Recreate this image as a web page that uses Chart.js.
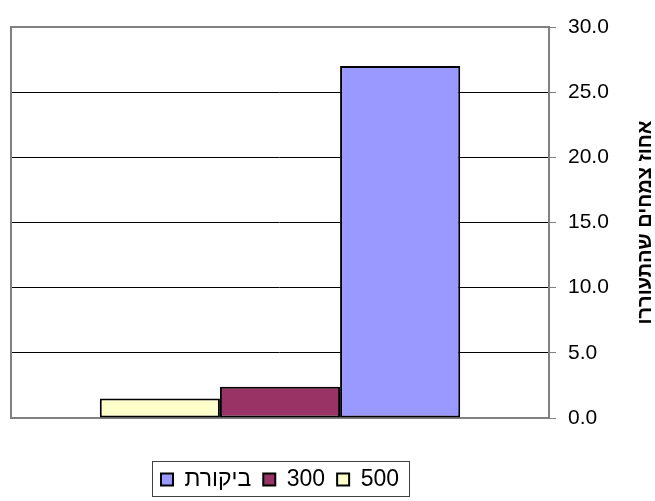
<!DOCTYPE html>
<html>
<head>
<meta charset="utf-8">
<script src="https://cdn.jsdelivr.net/npm/chart.js@4/dist/chart.umd.min.js"></script>
<style>
  html, body { margin: 0; padding: 0; background: #fff; }
  #wrap { width: 655px; height: 501px; }
</style>
</head>
<body>
<div id="wrap"><canvas id="germChart" width="655" height="501"></canvas></div>
<script>
const categories = [''];
const seriesNames = ['500', '300', 'ביקורת'];
const seriesValues = [[1.5], [2.4], [27.0]];
const seriesColors = ['#FFFFCC', '#993366', '#9999FF'];
const yTitle = 'אחוז צמחים שהתעוררו';
const yMin = 0, yMax = 30, yStep = 5;

const fontFamily = "'Liberation Sans', Arial, sans-serif";

const frameBorder = {
  id: 'frameBorder',
  beforeDatasetsDraw(chart) {
    const { ctx, chartArea: a } = chart;
    ctx.save();
    ctx.strokeStyle = '#808080';
    ctx.lineWidth = 2;
    ctx.strokeRect(a.left, a.top, a.right - a.left, a.bottom - a.top);
    ctx.restore();
  }
};

const sideTitle = {
  id: 'sideTitle',
  afterDraw(chart) {
    const { ctx, chartArea: a } = chart;
    ctx.save();
    ctx.translate(645, (a.top + a.bottom) / 2);
    ctx.rotate(-Math.PI / 2);
    ctx.font = 'bold 20px ' + fontFamily;
    ctx.fillStyle = '#000';
    ctx.textAlign = 'center';
    ctx.textBaseline = 'middle';
    ctx.fillText(yTitle, 0, 0);
    ctx.restore();
  }
};

const legendFrame = {
  id: 'legendFrame',
  afterDraw(chart) {
    const boxes = chart.legend && chart.legend.legendHitBoxes;
    if (!boxes || !boxes.length) return;
    const left = Math.min(...boxes.map((b) => b.left)) - 9;
    const right = Math.max(...boxes.map((b) => b.left + b.width)) + 10;
    const top = boxes[0].top - 7;
    const bottom = boxes[0].top + boxes[0].height + 5;
    const { ctx } = chart;
    ctx.save();
    ctx.strokeStyle = '#404040';
    ctx.lineWidth = 1;
    ctx.strokeRect(Math.round(left) + 0.5, Math.round(top) + 0.5, Math.round(right - left), Math.round(bottom - top));
    ctx.restore();
  }
};

const ctx = document.getElementById('germChart').getContext('2d');
new Chart(ctx, {
  type: 'bar',
  data: {
    labels: categories,
    datasets: seriesNames.map((name, i) => ({
      label: name,
      data: seriesValues[i],
      backgroundColor: seriesColors[i],
      borderColor: '#000',
      borderWidth: 2,
      borderSkipped: false,
      categoryPercentage: 0.67,
      barPercentage: 1
    }))
  },
  options: {
    responsive: false,
    animation: false,
    layout: { padding: { left: 11, top: 27, right: 0, bottom: 0 } },
    scales: {
      x: {
        display: true,
        grid: { display: false },
        border: { display: false },
        ticks: { display: false },
        afterFit: (s) => { s.height = 38; }
      },
      y: {
        position: 'right',
        min: yMin,
        max: yMax,
        grid: { color: '#000', lineWidth: 1, tickColor: '#808080', tickLength: 7 },
        border: { display: true, color: '#808080', width: 2 },
        ticks: {
          stepSize: yStep,
          padding: 12,
          color: '#000',
          font: { family: fontFamily, size: 21 },
          callback: (v) => Number(v).toFixed(1)
        },
        afterFit: (s) => { s.width = 106; }
      }
    },
    plugins: {
      legend: {
        position: 'bottom',
        fullSize: false,
        reverse: true,
        labels: {
          color: '#000',
          boxWidth: 12,
          boxHeight: 12,
          padding: 12,
          font: { family: fontFamily, size: 23 }
        }
      },
      tooltip: { enabled: false }
    }
  },
  plugins: [frameBorder, sideTitle, legendFrame]
});
</script>
</body>
</html>
